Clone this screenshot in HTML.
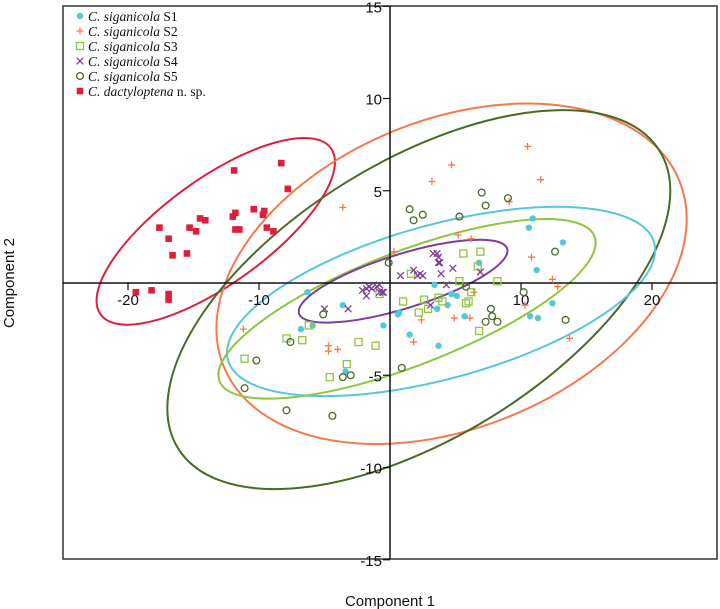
<!DOCTYPE html>
<html><head><meta charset="utf-8"><style>
html,body{margin:0;padding:0;background:#fff;width:720px;height:609px;overflow:hidden}
svg{display:block}
.tick{font-family:"Liberation Sans",Arial,sans-serif;font-size:15px;fill:#111}
.leg{font-family:"Liberation Serif","Times New Roman",serif;font-size:13.5px;fill:#111}
</style></head><body>
<svg id="chart" width="720" height="609" viewBox="0 0 720 609" xmlns="http://www.w3.org/2000/svg">
<rect x="63" y="6" width="654" height="553" fill="#fff" stroke="#333" stroke-width="1.5"/>
<g id="ellipses"></g>
<g id="axes"></g>
<g id="points"></g>
<g id="legend"></g>
<text x="390" y="606" text-anchor="middle" class="tick" style="font-size:15px">Component 1</text>
<text x="14" y="283" text-anchor="middle" class="tick" style="font-size:15px" transform="rotate(-90 14 283)">Component 2</text>
</svg>
<script>
const xTicks=[-20,-10,10,20];
const yTicks=[15,10,5,-5,-10,-15];
const seriesNames=["S1","S2","S3","S4","S5","dactyloptena"];
const s1X=[-6.3,-3.6,-6.8,-5.9,-0.5,0.7,0.6,1.5,-3.4,3.4,6.8,4.7,5.1,3.6,4.4,5.7,3.7,10.6,10.9,13.2,11.2,12.4,10.7,11.3];
const s1Y=[-0.5,-1.2,-2.5,-2.3,-2.3,-1.6,-1.7,-2.8,-4.8,-0.1,1.1,-0.6,-0.7,-1.4,-1.2,-1.8,-3.4,3.0,3.5,2.2,0.7,-1.1,-1.8,-1.9];
const s2X=[10.5,4.7,3.2,11.5,9.1,5.2,6.2,10.8,12.4,12.8,6.4,10.3,2.4,4.9,6.1,1.8,13.7,-3.6,0.3,-11.2,-4.7,-4.7,-4.0];
const s2Y=[7.4,6.4,5.5,5.6,4.4,2.6,2.4,1.4,0.2,-0.2,-0.5,-1.2,-2.0,-1.9,-1.9,-3.2,-3.0,4.1,1.7,-2.5,-3.4,-3.7,-3.6];
const s3X=[1.6,1.0,-6.2,-7.9,-6.7,-11.1,-2.4,-1.1,-3.3,-4.6,-0.8,5.6,6.9,6.7,5.3,8.2,6.2,2.6,3.7,4.0,2.2,2.9,5.8,6.0,6.8];
const s3Y=[0.5,-1.0,-2.3,-3.0,-3.1,-4.1,-3.2,-3.4,-4.4,-5.1,-0.6,1.6,1.7,0.9,0.1,0.1,-0.5,-0.9,-0.8,-1.0,-1.6,-1.4,-1.1,-1.0,-2.6];
const s4X=[0.8,-2.1,-1.8,-1.6,-1.4,-1.0,-0.8,-0.8,-0.5,-1.8,-5.0,-3.2,3.3,3.6,3.7,3.7,3.8,1.8,2.1,2.3,2.5,3.9,4.8,6.9,4.3,3.1,-0.6];
const s4Y=[0.4,-0.4,-0.3,-0.2,-0.3,-0.2,-0.1,-0.5,-0.5,-0.7,-1.4,-1.4,1.6,1.6,1.4,1.1,1.1,0.7,0.4,0.5,0.4,0.5,0.8,0.6,-0.1,-1.2,-0.5];
const s5X=[7.0,9.0,1.5,1.8,2.5,5.3,7.3,12.6,5.8,10.2,7.7,7.8,7.3,8.2,13.4,0.9,-0.1,-5.1,-7.6,-10.2,-3.6,-3.0,-11.1,-7.9,-4.4];
const s5Y=[4.9,4.6,4.0,3.4,3.7,3.6,4.2,1.7,-0.2,-0.5,-1.4,-1.8,-2.1,-2.1,-2.0,-4.6,1.1,-1.7,-3.2,-4.2,-5.1,-5.0,-5.7,-6.9,-7.2];
const dacX=[-8.3,-11.9,-7.8,-10.4,-9.6,-11.8,-12.0,-9.7,-14.5,-14.1,-15.3,-17.6,-14.8,-11.8,-11.5,-9.4,-8.9,-16.9,-15.5,-16.6,-19.4,-18.2,-16.9,-16.9];
const dacY=[6.5,6.1,5.1,4.0,3.9,3.8,3.6,3.7,3.5,3.4,3.0,3.0,2.8,2.9,2.9,3.0,2.8,2.4,1.6,1.5,-0.5,-0.4,-0.6,-0.9];
const ellCX=[3.9,4.7,1.3,1.0,2.2,-13.3];
const ellCY=[-1.0,0.5,-1.4,0.1,-0.9,2.8];

const X0=390,Y0=283,SX=13.1,SY=18.45;
function xs(v){return X0+v*SX;}
function ys(v){return Y0-v*SY;}
const NS="http://www.w3.org/2000/svg";
function mk(tag,attrs,parent){const e=document.createElementNS(NS,tag);for(const k in attrs)e.setAttribute(k,attrs[k]);parent.appendChild(e);return e;}
const colors=["#55c7dc","#f7784a","#8dc63f","#7d3f98","#4a6a26","#e01e3c"];
const ellShape=[[221,77,15.4],[246,154,22.2],[201,57,21.1],[109,27,17.3],[283,138,31.7],[142,52.5,35.8]];
const eg=document.getElementById('ellipses');
const ellOrder=[5,1,4,0,2,3];
ellOrder.forEach(i=>{
  const cx=xs(ellCX[i]),cy=ys(ellCY[i]);
  const e=mk('ellipse',{cx:cx,cy:cy,rx:ellShape[i][0],ry:ellShape[i][1],transform:`rotate(${-ellShape[i][2]} ${cx} ${cy})`,fill:'none',stroke:colors[i],'stroke-width':2},eg);
  
  
});
const ag=document.getElementById('axes');
const xl=mk('line',{x1:63,y1:Y0,x2:717,y2:Y0,stroke:'#111','stroke-width':1.5},ag);


const yl=mk('line',{x1:X0,y1:6,x2:X0,y2:559,stroke:'#111','stroke-width':1.5},ag);


xTicks.forEach(v=>{
  const t=mk('line',{x1:xs(v),y1:Y0,x2:xs(v),y2:Y0+7,stroke:'#111','stroke-width':1.2},ag);
  
  
  const l=mk('text',{x:xs(v),y:Y0+22,'text-anchor':'middle',class:'tick'},ag);
  l.textContent=String(v);
  
  
});
yTicks.forEach(v=>{
  const t=mk('line',{x1:X0-7,y1:ys(v),x2:X0,y2:ys(v),stroke:'#111','stroke-width':1.2},ag);
  
  
  const l=mk('text',{x:X0-8,y:ys(v)+6,'text-anchor':'end',class:'tick'},ag);
  l.textContent=String(v);
  
  
});
function marker(type,x,y,c,g){
  let e;
  if(type===0){e=mk('circle',{cx:x,cy:y,r:3.2,fill:c},g);}
  else if(type===1){e=mk('path',{d:`M${x-3.5} ${y}H${x+3.5}M${x} ${y-3.5}V${y+3.5}`,stroke:c,'stroke-width':1.3,fill:'none'},g);}
  else if(type===2){e=mk('rect',{x:x-3.5,y:y-3.5,width:7,height:7,fill:'none',stroke:c,'stroke-width':1.3},g);}
  else if(type===3){e=mk('path',{d:`M${x-3.3} ${y-3.3}L${x+3.3} ${y+3.3}M${x-3.3} ${y+3.3}L${x+3.3} ${y-3.3}`,stroke:c,'stroke-width':1.3,fill:'none'},g);}
  else if(type===4){e=mk('circle',{cx:x,cy:y,r:3.4,fill:'none',stroke:c,'stroke-width':1.3},g);}
  else {e=mk('rect',{x:x-3.3,y:y-3.3,width:6.6,height:6.6,fill:c},g);}
  return e;
}
const pg=document.getElementById('points');
const allX=[s1X,s2X,s3X,s4X,s5X,dacX],allY=[s1Y,s2Y,s3Y,s4Y,s5Y,dacY];
allX.forEach((arr,si)=>{
  arr.forEach((v,j)=>{
    const e=marker(si,xs(v),ys(allY[si][j]),colors[si],pg);
    
    
  });
});
const lg=document.getElementById('legend');
const labels=[["C. siganicola"," S1"],["C. siganicola"," S2"],["C. siganicola"," S3"],["C. siganicola"," S4"],["C. siganicola"," S5"],["C. dactyloptena"," n. sp."]];
labels.forEach((lb,i)=>{
  const y=16+i*15;
  const m=marker(i,80,y,colors[i],lg);
  
  
  const t=mk('text',{x:88,y:y+5,class:'leg'},lg);
  
  
  const a=mk('tspan',{'font-style':'italic'},t);a.textContent=lb[0];
  const b=mk('tspan',{},t);b.textContent=lb[1];
});
</script>
</body></html>
